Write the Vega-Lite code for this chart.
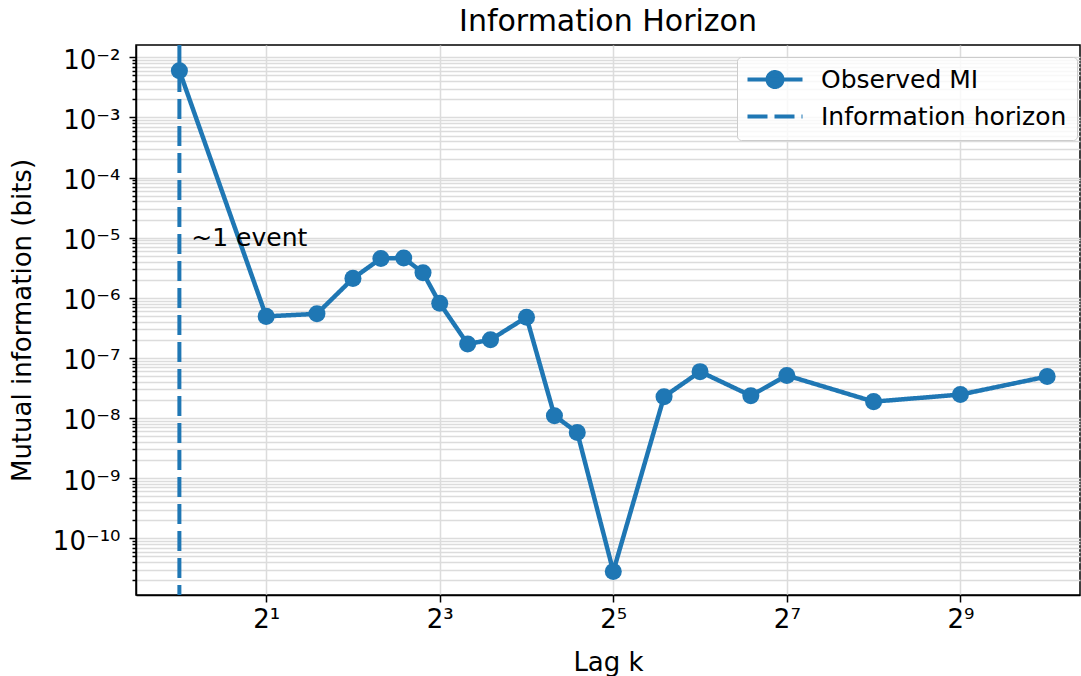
{
  "$schema": "https://vega.github.io/schema/vega-lite/v6.json",
  "width": 944,
  "height": 550,
  "autosize": {"type": "none"},
  "padding": {"left": 136, "top": 45, "right": 1, "bottom": 81},
  "background": "white",
  "title": {
    "text": "Information Horizon",
    "fontSize": 30,
    "fontWeight": "normal",
    "font": "DejaVu Sans",
    "color": "black",
    "anchor": "middle",
    "frame": "group",
    "baseline": "alphabetic",
    "offset": 17,
    "dy": 35
  },
  "config": {
    "font": "DejaVu Sans",
    "view": {"stroke": "black", "strokeWidth": 1.5},
    "axis": {
      "labelFont": "DejaVu Sans",
      "titleFont": "DejaVu Sans",
      "labelColor": "black",
      "titleColor": "black",
      "labelFontSize": 26,
      "titleFontSize": 26,
      "titleFontWeight": "normal",
      "domainColor": "black",
      "domainWidth": 1.5,
      "tickColor": "black",
      "tickWidth": 1.5,
      "gridColor": "#dcdcdc",
      "gridWidth": 1.5
    }
  },
  "datasets": {
    "mi": [
      {"k": 1, "mi": 6.0e-3, "series": "Observed MI"},
      {"k": 2, "mi": 4.9e-7, "series": "Observed MI"},
      {"k": 3, "mi": 5.4e-7, "series": "Observed MI"},
      {"k": 4, "mi": 2.1e-6, "series": "Observed MI"},
      {"k": 5, "mi": 4.5e-6, "series": "Observed MI"},
      {"k": 6, "mi": 4.6e-6, "series": "Observed MI"},
      {"k": 7, "mi": 2.6e-6, "series": "Observed MI"},
      {"k": 8, "mi": 8.1e-7, "series": "Observed MI"},
      {"k": 10, "mi": 1.7e-7, "series": "Observed MI"},
      {"k": 12, "mi": 2.0e-7, "series": "Observed MI"},
      {"k": 16, "mi": 4.75e-7, "series": "Observed MI"},
      {"k": 20, "mi": 1.09e-8, "series": "Observed MI"},
      {"k": 24, "mi": 5.75e-9, "series": "Observed MI"},
      {"k": 32, "mi": 2.8e-11, "series": "Observed MI"},
      {"k": 48, "mi": 2.26e-8, "series": "Observed MI"},
      {"k": 64, "mi": 5.9e-8, "series": "Observed MI"},
      {"k": 96, "mi": 2.35e-8, "series": "Observed MI"},
      {"k": 128, "mi": 5.1e-8, "series": "Observed MI"},
      {"k": 256, "mi": 1.87e-8, "series": "Observed MI"},
      {"k": 512, "mi": 2.45e-8, "series": "Observed MI"},
      {"k": 1024, "mi": 4.9e-8, "series": "Observed MI"}
    ],
    "horizon": [{"k": 1, "series": "Information horizon"}],
    "note": [{"k": 1.1, "mi": 1e-5, "label": "~1 event"}]
  },
  "layer": [
    {
      "data": {"name": "horizon"},
      "mark": {"type": "rule", "strokeWidth": 4, "color": "#1f77b4"},
      "encoding": {
        "x": {"field": "k", "type": "quantitative", "scale": {"type": "log", "base": 2, "domain": [0.7071, 1331], "nice": false, "zero": false}},
        "strokeDash": {"field": "series", "type": "nominal", "scale": {"domain": ["Observed MI", "Information horizon"], "range": [[1, 0], [20, 7]]}}
      }
    },
    {
      "data": {"name": "mi"},
      "mark": {"type": "line", "strokeWidth": 4.5, "color": "#1f77b4"},
      "encoding": {
        "x": {
          "field": "k", "type": "quantitative",
          "scale": {"type": "log", "base": 2, "domain": [0.7071, 1331], "nice": false, "zero": false},
          "axis": {
            "title": "Lag k",
            "values": [2, 8, 32, 128, 512],
            "labelExpr": "datum.value == 2 ? '2¹' : datum.value == 8 ? '2³' : datum.value == 32 ? '2⁵' : datum.value == 128 ? '2⁷' : '2⁹'",
            "grid": true,
            "tickSize": 7,
            "labelPadding": 4,
            "titlePadding": 17
          }
        },
        "y": {
          "field": "mi", "type": "quantitative",
          "scale": {"type": "log", "domain": [1.135e-11, 0.01603], "nice": false, "zero": false},
          "axis": {
            "title": "Mutual information (bits)",
            "values": [1e-2, 1e-3, 1e-4, 1e-5, 1e-6, 1e-7, 1e-8, 1e-9, 1e-10,
              2e-11, 3e-11, 4e-11, 5e-11, 6e-11, 7e-11, 8e-11, 9e-11,
              2e-10, 3e-10, 4e-10, 5e-10, 6e-10, 7e-10, 8e-10, 9e-10,
              2e-9, 3e-9, 4e-9, 5e-9, 6e-9, 7e-9, 8e-9, 9e-9,
              2e-8, 3e-8, 4e-8, 5e-8, 6e-8, 7e-8, 8e-8, 9e-8,
              2e-7, 3e-7, 4e-7, 5e-7, 6e-7, 7e-7, 8e-7, 9e-7,
              2e-6, 3e-6, 4e-6, 5e-6, 6e-6, 7e-6, 8e-6, 9e-6,
              2e-5, 3e-5, 4e-5, 5e-5, 6e-5, 7e-5, 8e-5, 9e-5,
              2e-4, 3e-4, 4e-4, 5e-4, 6e-4, 7e-4, 8e-4, 9e-4,
              2e-3, 3e-3, 4e-3, 5e-3, 6e-3, 7e-3, 8e-3, 9e-3],
            "labelExpr": "abs(log(datum.value)/LN10 - round(log(datum.value)/LN10)) > 0.001 ? '' : ['10⁰','10⁻¹','10⁻²','10⁻³','10⁻⁴','10⁻⁵','10⁻⁶','10⁻⁷','10⁻⁸','10⁻⁹','10⁻¹⁰'][round(-log(datum.value)/LN10)]",
            "grid": true,
            "tickSize": {"condition": {"test": "abs(log(datum.value)/LN10 - round(log(datum.value)/LN10)) < 0.001", "value": 7}, "value": 4},
            "labelPadding": 9,
            "labelOffset": 3,
            "titlePadding": 17
          }
        },
        "strokeDash": {
          "field": "series", "type": "nominal",
          "scale": {"domain": ["Observed MI", "Information horizon"], "range": [[1, 0], [20, 7]]},
          "legend": {
            "title": null,
            "orient": "none",
            "legendX": 601,
            "legendY": 12,
            "labelFont": "DejaVu Sans",
            "labelFontSize": 25,
            "labelColor": "black",
            "labelLimit": 0,
            "labelOffset": 49,
            "symbolSize": 400,
            "symbolStrokeWidth": 3.5,
            "symbolStrokeColor": "#1f77b4",
            "fillColor": "rgba(255,255,255,0.8)",
            "strokeColor": "#cccccc",
            "cornerRadius": 4,
            "padding": 10,
            "rowPadding": 8,
            "encode": {
              "symbols": {
                "update": {
                  "shape": {"signal": "datum.value === 'Observed MI' ? 'M-1.2,0H4.3M0.8,0A0.75,0.75,0,1,1,2.3,0A0.75,0.75,0,1,1,0.8,0Z' : 'M-1.2,0H4.3'"},
                  "fill": {"value": "#1f77b4"},
                  "stroke": {"value": "#1f77b4"},
                  "strokeWidth": {"value": 4}
                }
              }
            }
          }
        }
      }
    },
    {
      "data": {"name": "mi"},
      "mark": {"type": "point", "filled": true, "size": 290, "color": "#1f77b4", "opacity": 1},
      "encoding": {
        "x": {"field": "k", "type": "quantitative"},
        "y": {"field": "mi", "type": "quantitative"}
      }
    },
    {
      "data": {"name": "note"},
      "mark": {"type": "text", "align": "left", "baseline": "middle", "fontSize": 25, "color": "black", "font": "DejaVu Sans"},
      "encoding": {
        "x": {"field": "k", "type": "quantitative"},
        "y": {"field": "mi", "type": "quantitative"},
        "text": {"field": "label"}
      }
    }
  ]
}
